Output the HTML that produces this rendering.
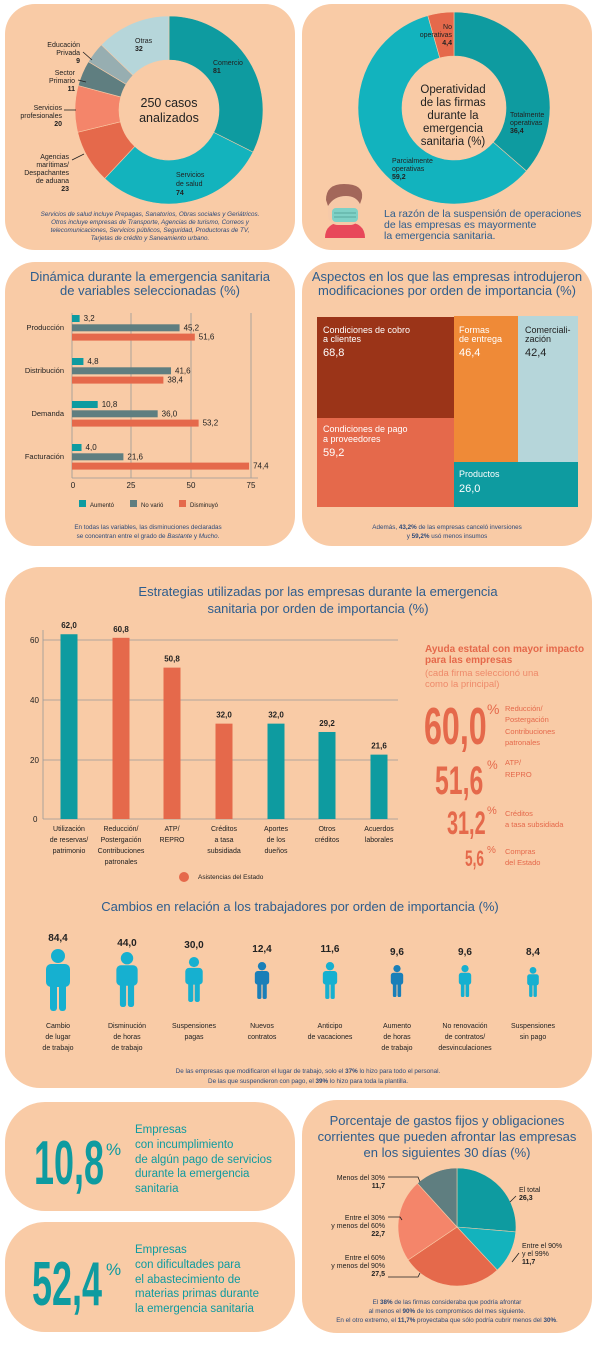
<!DOCTYPE html>
<html><head><meta charset="utf-8">
<style>
body{margin:0;background:#fff;}
svg{display:block;font-family:"Liberation Sans",sans-serif;}
.t{fill:#2d5d8e;font-size:13px;}
.s{font-size:7px;fill:#222;}
.b{font-weight:bold;}
</style></head><body>
<svg id="sv" width="600" height="1360" viewBox="0 0 600 1360" xmlns="http://www.w3.org/2000/svg">
<g fill="#f9cba6">
<rect x="5" y="4" width="290" height="246" rx="30"/>
<rect x="302" y="4" width="290" height="246" rx="30"/>
<rect x="5" y="262" width="290" height="284" rx="30"/>
<rect x="302" y="262" width="290" height="284" rx="30"/>
<rect x="5" y="567" width="587" height="521" rx="35"/>
<rect x="5" y="1102" width="290" height="109" rx="40"/>
<rect x="5" y="1222" width="290" height="110" rx="40"/>
<rect x="302" y="1100" width="290" height="233" rx="35"/>
</g>
<g id="pies"></g>

<text x="169" y="107" text-anchor="middle" font-size="12.5" fill="#222">250 casos</text>
<text x="169" y="122" text-anchor="middle" font-size="12.5" fill="#222">analizados</text>
<g class="s" font-size="7">
<text x="213" y="65">Comercio</text><text x="213" y="73" class="b">81</text>
<text x="176" y="177">Servicios</text><text x="176" y="186">de salud</text><text x="176" y="195" class="b">74</text>
<text x="135" y="43">Otras</text><text x="135" y="51" class="b">32</text>
<g text-anchor="end">
<text x="80" y="47">Educación</text><text x="80" y="55">Privada</text><text x="80" y="63" class="b">9</text>
<text x="75" y="75">Sector</text><text x="75" y="83">Primario</text><text x="75" y="91" class="b">11</text>
<text x="62" y="110">Servicios</text><text x="62" y="118">profesionales</text><text x="62" y="126" class="b">20</text>
<text x="69" y="159">Agencias</text><text x="69" y="167">marítimas/</text><text x="69" y="175">Despachantes</text><text x="69" y="183">de aduana</text><text x="69" y="191" class="b">23</text>
</g></g>
<g stroke="#222" stroke-width="0.8">
<line x1="83" y1="52" x2="92" y2="60"/><line x1="78" y1="80" x2="86" y2="82"/><line x1="64" y1="110" x2="76" y2="110"/><line x1="72" y1="160" x2="84" y2="154"/>
</g>
<g font-size="6.3" fill="#2d4a7a" text-anchor="middle" font-style="italic">
<text x="150" y="216">Servicios de salud incluye Prepagas, Sanatorios, Obras sociales y Geriátricos.</text>
<text x="150" y="224">Otros incluye empresas de Transporte, Agencias de turismo, Correos y</text>
<text x="150" y="232">telecomunicaciones, Servicios públicos, Seguridad, Productoras de TV,</text>
<text x="150" y="240">Tarjetas de crédito y Saneamiento urbano.</text>
</g>

<g text-anchor="middle" font-size="11.5" fill="#222">
<text x="453" y="93">Operatividad</text><text x="453" y="106">de las firmas</text><text x="453" y="119">durante la</text><text x="453" y="132">emergencia</text><text x="453" y="145">sanitaria (%)</text>
</g>
<g class="s">
<text x="510" y="117">Totalmente</text><text x="510" y="125">operativas</text><text x="510" y="133" class="b">36,4</text>
<text x="392" y="163">Parcialmente</text><text x="392" y="171">operativas</text><text x="392" y="179" class="b">59,2</text>
<g text-anchor="end"><text x="452" y="29">No</text><text x="452" y="37">operativas</text><text x="452" y="45" class="b">4,4</text></g>
</g>
<g>
<path d="M325 238 q0-16 20-16 q20 0 20 16z" fill="#e8485a"/>
<rect x="328" y="193" width="32" height="32" rx="10" fill="#f6c9a8"/>
<path d="M326 200 q0-16 18-16 q20 0 18 14 l-2 6 q-4-8-14-8 q-12 0-18 10z" fill="#a3675a"/>
<rect x="332" y="208" width="26" height="14" rx="4" fill="#7fd1c6"/>
<line x1="334" y1="213" x2="356" y2="213" stroke="#5aa99f" stroke-width="1"/>
<line x1="334" y1="217" x2="356" y2="217" stroke="#5aa99f" stroke-width="1"/>
</g>
<g fill="#2d5d8e" font-size="10.5">
<text x="384" y="217">La razón de la suspensión de operaciones</text>
<text x="384" y="228">de las empresas es mayormente</text>
<text x="384" y="239">la emergencia sanitaria.</text>
</g>

<text class="t" x="150" y="281" text-anchor="middle">Dinámica durante la emergencia sanitaria</text>
<text class="t" x="150" y="295" text-anchor="middle">de variables seleccionadas (%)</text>
<g stroke="#999" stroke-width="0.8">
<line x1="72" y1="313" x2="72" y2="478"/><line x1="131" y1="313" x2="131" y2="478"/><line x1="191" y1="313" x2="191" y2="478"/><line x1="251" y1="313" x2="251" y2="478"/>
<line x1="72" y1="478" x2="258" y2="478"/>
</g>
<g id="hbars"></g>
<g font-size="7.5" fill="#222" text-anchor="end">
<text x="64" y="330">Producción</text><text x="64" y="373">Distribución</text><text x="64" y="416">Demanda</text><text x="64" y="459">Facturación</text>
</g>
<g font-size="8" fill="#222" text-anchor="middle"><text x="73" y="488">0</text><text x="131" y="488">25</text><text x="191" y="488">50</text><text x="251" y="488">75</text></g>
<rect x="79" y="500" width="7" height="7" fill="#0e9ba0"/><text x="90" y="507" font-size="6" fill="#222">Aumentó</text>
<rect x="130" y="500" width="7" height="7" fill="#5f7e80"/><text x="141" y="507" font-size="6" fill="#222">No varió</text>
<rect x="179" y="500" width="7" height="7" fill="#e5694b"/><text x="190" y="507" font-size="6" fill="#222">Disminuyó</text>
<g font-size="6.3" fill="#2d4a7a" text-anchor="middle"><text x="148" y="529">En todas las variables, las disminuciones declaradas</text><text x="148" y="538">se concentran entre el grado de <tspan font-style="italic">Bastante</tspan> y <tspan font-style="italic">Mucho</tspan>.</text></g>

<text class="t" x="447" y="281" text-anchor="middle">Aspectos en los que las empresas introdujeron</text>
<text class="t" x="447" y="295" text-anchor="middle">modificaciones por orden de importancia (%)</text>
<rect x="317" y="317" width="137" height="102" fill="#9b3418"/>
<rect x="317" y="418" width="137" height="89" fill="#e5694b"/>
<rect x="454" y="316" width="64" height="146" fill="#ef8a37"/>
<rect x="518" y="316" width="60" height="146" fill="#b6d6da"/>
<rect x="454" y="462" width="124" height="45" fill="#0e9ba0"/>
<g font-size="9" fill="#fff">
<text x="323" y="333">Condiciones de cobro</text><text x="323" y="342">a clientes</text><text x="323" y="356" font-size="11">68,8</text>
<text x="323" y="432">Condiciones de pago</text><text x="323" y="442">a proveedores</text><text x="323" y="456" font-size="11">59,2</text>
<text x="459" y="333">Formas</text><text x="459" y="342">de entrega</text><text x="459" y="356" font-size="11">46,4</text>
<text x="459" y="477">Productos</text><text x="459" y="492" font-size="11">26,0</text>
</g>
<g font-size="9" fill="#222"><text x="525" y="333">Comerciali-</text><text x="525" y="342">zación</text><text x="525" y="356" font-size="11">42,4</text></g>
<g font-size="6.3" fill="#2d4a7a" text-anchor="middle"><text x="447" y="529">Además, <tspan font-weight="bold">43,2%</tspan> de las empresas canceló inversiones</text><text x="447" y="538">y <tspan font-weight="bold">59,2%</tspan> usó menos insumos</text></g>

<text class="t" x="318" y="596" text-anchor="middle" font-size="14">Estrategias utilizadas por las empresas durante la emergencia</text>
<text class="t" x="318" y="613" text-anchor="middle" font-size="14">sanitaria por orden de importancia (%)</text>
<g stroke="#999" stroke-width="0.8">
<line x1="43" y1="640" x2="398" y2="640"/><line x1="43" y1="700" x2="398" y2="700"/><line x1="43" y1="760" x2="398" y2="760"/><line x1="43" y1="819" x2="398" y2="819"/><line x1="43" y1="630" x2="43" y2="819"/>
</g>
<g font-size="8" fill="#222"><text x="30" y="643">60</text><text x="30" y="703">40</text><text x="30" y="763">20</text><text x="33" y="822">0</text></g>
<g id="vbars"></g>
<g font-size="7" fill="#222" text-anchor="middle">
<text x="69" y="831">Utilización</text><text x="69" y="842">de reservas/</text><text x="69" y="853">patrimonio</text>
<text x="121" y="831">Reducción/</text><text x="121" y="842">Postergación</text><text x="121" y="853">Contribuciones</text><text x="121" y="864">patronales</text>
<text x="172" y="831">ATP/</text><text x="172" y="842">REPRO</text>
<text x="224" y="831">Créditos</text><text x="224" y="842">a tasa</text><text x="224" y="853">subsidiada</text>
<text x="276" y="831">Aportes</text><text x="276" y="842">de los</text><text x="276" y="853">dueños</text>
<text x="327" y="831">Otros</text><text x="327" y="842">créditos</text>
<text x="379" y="831">Acuerdos</text><text x="379" y="842">laborales</text>
</g>
<circle cx="184" cy="877" r="5" fill="#e5694b"/><text x="198" y="879" font-size="6.5" fill="#222">Asistencias del Estado</text>
<g fill="#e5694b">
<text x="425" y="652" font-size="10" font-weight="bold">Ayuda estatal con mayor impacto</text>
<text x="425" y="663" font-size="10" font-weight="bold">para las empresas</text>
<text x="425" y="676" font-size="9.5" fill="#ee8a6a">(cada firma seleccionó una</text>
<text x="425" y="687" font-size="9.5" fill="#ee8a6a">como la principal)</text>
<text transform="translate(424,744) scale(0.62,1)" font-size="52" font-weight="bold">60,0</text><text x="487" y="714" font-size="14">%</text>
<text transform="translate(435,794) scale(0.62,1)" font-size="40" font-weight="bold">51,6</text><text x="487" y="769" font-size="12">%</text>
<text transform="translate(447,834) scale(0.62,1)" font-size="32" font-weight="bold">31,2</text><text x="487" y="814" font-size="11">%</text>
<text transform="translate(465,866) scale(0.62,1)" font-size="22" font-weight="bold">5,6</text><text x="487" y="853" font-size="10">%</text>
<g font-size="7.5"><text x="505" y="711">Reducción/</text><text x="505" y="722">Postergación</text><text x="505" y="734">Contribuciones</text><text x="505" y="745">patronales</text>
<text x="505" y="765">ATP/</text><text x="505" y="777">REPRO</text>
<text x="505" y="816">Créditos</text><text x="505" y="827">a tasa subsidiada</text>
<text x="505" y="854">Compras</text><text x="505" y="865">del Estado</text></g>
</g>

<text class="t" x="300" y="911" text-anchor="middle" font-size="13">Cambios en relación a los trabajadores por orden de importancia (%)</text>
<g id="people"></g>
<g font-size="10" font-weight="bold" fill="#222" text-anchor="middle">
<text x="58" y="941">84,4</text><text x="127" y="946">44,0</text><text x="194" y="948">30,0</text><text x="262" y="952">12,4</text><text x="330" y="952">11,6</text><text x="397" y="955">9,6</text><text x="465" y="955">9,6</text><text x="533" y="955">8,4</text>
</g>
<g font-size="7" fill="#222" text-anchor="middle">
<text x="58" y="1028">Cambio</text><text x="58" y="1039">de lugar</text><text x="58" y="1050">de trabajo</text>
<text x="127" y="1028">Disminución</text><text x="127" y="1039">de horas</text><text x="127" y="1050">de trabajo</text>
<text x="194" y="1028">Suspensiones</text><text x="194" y="1039">pagas</text>
<text x="262" y="1028">Nuevos</text><text x="262" y="1039">contratos</text>
<text x="330" y="1028">Anticipo</text><text x="330" y="1039">de vacaciones</text>
<text x="397" y="1028">Aumento</text><text x="397" y="1039">de horas</text><text x="397" y="1050">de trabajo</text>
<text x="465" y="1028">No renovación</text><text x="465" y="1039">de contratos/</text><text x="465" y="1050">desvinculaciones</text>
<text x="533" y="1028">Suspensiones</text><text x="533" y="1039">sin pago</text>
</g>
<g font-size="6.3" fill="#2d4a7a" text-anchor="middle"><text x="308" y="1073">De las empresas que modificaron el lugar de trabajo, solo el <tspan font-weight="bold">37%</tspan> lo hizo para todo el personal.</text><text x="308" y="1083">De las que suspendieron con pago, el <tspan font-weight="bold">39%</tspan> lo hizo para toda la plantilla.</text></g>

<g fill="#0e9ba0">
<text transform="translate(34,1184) scale(0.58,1)" font-size="62" font-weight="bold">10,8</text><text x="106" y="1155" font-size="17">%</text>
<text transform="translate(32,1305) scale(0.58,1)" font-size="62" font-weight="bold">52,4</text><text x="106" y="1275" font-size="17">%</text>
<g font-size="11.5"><text x="135" y="1133">Empresas</text><text x="135" y="1148">con incumplimiento</text><text x="135" y="1163">de algún pago de servicios</text><text x="135" y="1177">durante la emergencia</text><text x="135" y="1192">sanitaria</text>
<text x="135" y="1253">Empresas</text><text x="135" y="1268">con dificultades para</text><text x="135" y="1283">el abastecimiento de</text><text x="135" y="1297">materias primas durante</text><text x="135" y="1312">la emergencia sanitaria</text></g>
</g>
<g class="t" text-anchor="middle" font-size="13"><text x="447" y="1125">Porcentaje de gastos fijos y obligaciones</text><text x="447" y="1141">corrientes que pueden afrontar las empresas</text><text x="447" y="1157">en los siguientes 30 días (%)</text></g>
<g class="s" font-size="6.5">
<text x="519" y="1192">El total</text><text x="519" y="1200" class="b">26,3</text>
<text x="522" y="1248">Entre el 90%</text><text x="522" y="1256">y el 99%</text><text x="522" y="1264" class="b">11,7</text>
<g text-anchor="end"><text x="385" y="1180">Menos del 30%</text><text x="385" y="1188" class="b">11,7</text>
<text x="385" y="1220">Entre el 30%</text><text x="385" y="1228">y menos del 60%</text><text x="385" y="1236" class="b">22,7</text>
<text x="385" y="1260">Entre el 60%</text><text x="385" y="1268">y menos del 90%</text><text x="385" y="1276" class="b">27,5</text></g>
</g>
<g stroke="#222" stroke-width="0.8" fill="none">
<polyline points="388,1177 418,1177 420,1182"/><polyline points="388,1217 400,1217 402,1220"/><polyline points="388,1277 418,1277 420,1273"/>
<line x1="516" y1="1196" x2="510" y2="1202"/><line x1="519" y1="1253" x2="512" y2="1262"/>
</g>
<g font-size="6.3" fill="#2d4a7a" text-anchor="middle"><text x="447" y="1304">El <tspan font-weight="bold">38%</tspan> de las firmas consideraba que podría afrontar</text><text x="447" y="1313">al menos el <tspan font-weight="bold">90%</tspan> de los compromisos del mes siguiente.</text><text x="447" y="1322">En el otro extremo, el <tspan font-weight="bold">11,7%</tspan> proyectaba que sólo podría cubrir menos del <tspan font-weight="bold">30%</tspan>.</text></g>
</svg>
<script>
var NS="http://www.w3.org/2000/svg";
function el(p,t,a){var e=document.createElementNS(NS,t);for(var k in a)e.setAttribute(k,a[k]);document.getElementById(p).appendChild(e);return e;}
function pt(cx,cy,r,a){return [cx+r*Math.sin(a),cy-r*Math.cos(a)];}
function donut(cx,cy,R,r,vals,cols){var tot=vals.reduce(function(a,b){return a+b},0),a0=0;
vals.forEach(function(v,i){var a1=a0+v/tot*2*Math.PI,l=(a1-a0)>Math.PI?1:0;
var p1=pt(cx,cy,R,a0),p2=pt(cx,cy,R,a1),d;
if(r>0){var q1=pt(cx,cy,r,a1),q2=pt(cx,cy,r,a0);
d="M"+p1+"A"+R+","+R+" 0 "+l+" 1 "+p2+"L"+q1+"A"+r+","+r+" 0 "+l+" 0 "+q2+"Z";}
else d="M"+cx+","+cy+"L"+p1+"A"+R+","+R+" 0 "+l+" 1 "+p2+"Z";
el("pies","path",{d:d,fill:cols[i],stroke:"#f9cba6","stroke-width":"0.6"});a0=a1;});}
donut(169,110,94,50,[81,74,23,20,11,9,32],["#0e9ba0","#13b3bd","#e5694b","#f4856a","#5f7e80","#97aeb1","#b6d6da"]);
donut(454,108,96,52,[36.4,59.2,4.4],["#0e9ba0","#12b3be","#e5694b"]);
donut(457,1227,59,0,[26.3,11.7,27.5,22.7,11.7],["#0e9ba0","#13b3bd","#e5694b","#f4856a","#5f7e80"]);
var hb=[[3.2,45.2,51.6],[4.8,41.6,38.4],[10.8,36.0,53.2],[4.0,21.6,74.4]],hc=["#0e9ba0","#5f7e80","#e5694b"];
hb.forEach(function(g,i){g.forEach(function(v,j){var y=315+i*43+j*9.3;el("hbars","rect",{x:72,y:y,width:v*2.38,height:7,fill:hc[j]});
var t=el("hbars","text",{x:72+v*2.38+4,y:y+6,"font-size":8,fill:"#222"});t.textContent=String(v.toFixed(1)).replace(".",",");});});
var vb=[[62,"#0e9ba0"],[60.8,"#e5694b"],[50.8,"#e5694b"],[32,"#e5694b"],[32,"#0e9ba0"],[29.2,"#0e9ba0"],[21.6,"#0e9ba0"]],cx=[69,121,172,224,276,327,379];
vb.forEach(function(b,i){var h=b[0]*2.98;el("vbars","rect",{x:cx[i]-8.5,y:819-h,width:17,height:h,fill:b[1]});
var t=el("vbars","text",{x:cx[i],y:819-h-6,"font-size":8,"font-weight":"bold",fill:"#222","text-anchor":"middle"});t.textContent=b[0].toFixed(1).replace(".",",");});
var px=[58,127,194,262,330,397,465,533],ph=[62,55,45,37,37,32,32,30],pb=[1011,1007,1002,999,999,997,997,997],pc=["#16b0d0","#16b0d0","#16b0d0","#1a7fb8","#16b0d0","#1a7fb8","#16b0d0","#16b0d0"];
px.forEach(function(x,i){var h=ph[i],s=h/62,b=pb[i],top=b-h,c=pc[i];
el("people","circle",{cx:x,cy:top+7*s,r:7*s,fill:c});
el("people","rect",{x:x-12*s,y:top+15*s,width:24*s,height:23*s,rx:5*s,fill:c});
el("people","rect",{x:x-8*s,y:top+30*s,width:7*s,height:32*s,rx:3*s,fill:c});
el("people","rect",{x:x+1*s,y:top+30*s,width:7*s,height:32*s,rx:3*s,fill:c});});
</script>
</body></html>
